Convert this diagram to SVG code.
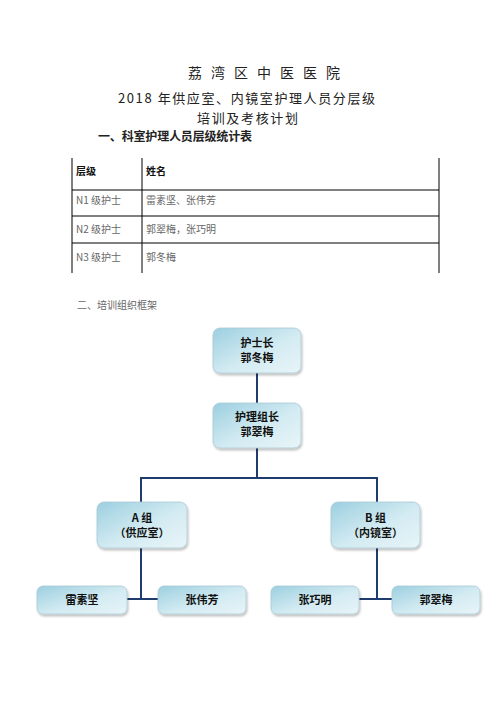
<svg xmlns="http://www.w3.org/2000/svg" width="496" height="702" viewBox="0 0 496 702">
<defs>
<linearGradient id="g" x1="0" y1="0" x2="1" y2="1">
<stop offset="0" stop-color="#9ccfe0"/>
<stop offset="0.55" stop-color="#d3ebf2"/>
<stop offset="1" stop-color="#e8f5f8"/>
</linearGradient>
<filter id="sh" x="-10%" y="-10%" width="130%" height="140%">
<feDropShadow dx="1" dy="2" stdDeviation="1.2" flood-color="#000" flood-opacity="0.25"/>
</filter>
</defs>
<style>
.t{font-family:"Noto Sans CJK SC","Liberation Sans",sans-serif;fill:#222}
.h{font-size:13px}
.b{font-weight:bold}
.tb{font-family:"Noto Sans CJK SC","Liberation Sans",sans-serif;font-size:10px;fill:#666}
.tbh{font-family:"Noto Sans CJK SC","Liberation Sans",sans-serif;font-size:10px;font-weight:bold;fill:#111}
.tl{stroke:#000;stroke-width:1}
.box{fill:url(#g);stroke:#a9c9d6;stroke-width:0.8;filter:url(#sh)}
.nt{font-family:"Noto Sans CJK SC","Liberation Sans",sans-serif;font-size:11px;font-weight:bold;fill:#111;text-anchor:middle}
.c{stroke:#1f3c6e;stroke-width:2;fill:none}
</style>
<rect width="496" height="702" fill="#fff"/>
<g id="header">
<text class="t" x="188" y="78" font-size="14" textLength="152" lengthAdjust="spacing">荔 湾 区 中 医 医 院</text>
<text class="t h" x="118" y="103" textLength="257" lengthAdjust="spacing">2018 年供应室、内镜室护理人员分层级</text>
<text class="t h" x="197" y="123" textLength="101" lengthAdjust="spacing">培训及考核计划</text>
<text class="t b" x="98" y="141" font-size="12" textLength="154" lengthAdjust="spacing">一、科室护理人员层级统计表</text>
</g>
<g id="table">
<line class="tl" x1="72" y1="158" x2="72" y2="273"/>
<line class="tl" x1="142" y1="158" x2="142" y2="273"/>
<line class="tl" x1="439" y1="158" x2="439" y2="273"/>
<line class="tl" x1="72" y1="190" x2="439" y2="190"/>
<line class="tl" x1="72" y1="216" x2="439" y2="216"/>
<line class="tl" x1="72" y1="243" x2="439" y2="243"/>
<text class="tbh" x="76" y="175">层级</text>
<text class="tbh" x="146" y="175">姓名</text>
<text class="tb" x="76" y="204">N1 级护士</text>
<text class="tb" x="146" y="204">雷素坚、张伟芳</text>
<text class="tb" x="76" y="233">N2 级护士</text>
<text class="tb" x="146" y="233">郭翠梅，张巧明</text>
<text class="tb" x="76" y="261">N3 级护士</text>
<text class="tb" x="146" y="261">郭冬梅</text>
</g>
<text class="tb" x="77" y="309">二、培训组织框架</text>
<g id="connectors">
<line class="c" x1="257" y1="373" x2="257" y2="403"/>
<polyline class="c" points="257,448 257,478"/>
<polyline class="c" points="141,502 141,478 377,478 377,502"/>
<polyline class="c" points="141,548 141,599"/>
<polyline class="c" points="377,548 377,599"/>
<line class="c" x1="127" y1="599" x2="158" y2="599"/>
<line class="c" x1="359" y1="599" x2="392" y2="599"/>
</g>
<g id="n1"><rect class="box" x="213" y="328" width="88" height="45" rx="7"/><text class="nt" x="257" y="347">护士长</text><text class="nt" x="257" y="362">郭冬梅</text></g>
<g id="n2"><rect class="box" x="213" y="403" width="88" height="45" rx="7"/><text class="nt" x="257" y="421">护理组长</text><text class="nt" x="257" y="436">郭翠梅</text></g>
<g id="nA"><rect class="box" x="97" y="502" width="90" height="46" rx="7"/><text class="nt" x="142" y="522">A 组</text><text class="nt" x="142" y="537">（供应室）</text></g>
<g id="nB"><rect class="box" x="331" y="502" width="89" height="46" rx="7"/><text class="nt" x="375.5" y="522">B 组</text><text class="nt" x="375.5" y="537">（内镜室）</text></g>
<g id="l1"><rect class="box" x="37" y="586" width="90" height="28" rx="6"/><text class="nt" x="82" y="604">雷素坚</text></g>
<g id="l2"><rect class="box" x="158" y="586" width="88" height="28" rx="6"/><text class="nt" x="202" y="604">张伟芳</text></g>
<g id="l3"><rect class="box" x="271" y="586" width="88" height="28" rx="6"/><text class="nt" x="315" y="604">张巧明</text></g>
<g id="l4"><rect class="box" x="392" y="586" width="88" height="28" rx="6"/><text class="nt" x="436" y="604">郭翠梅</text></g>
</svg>
